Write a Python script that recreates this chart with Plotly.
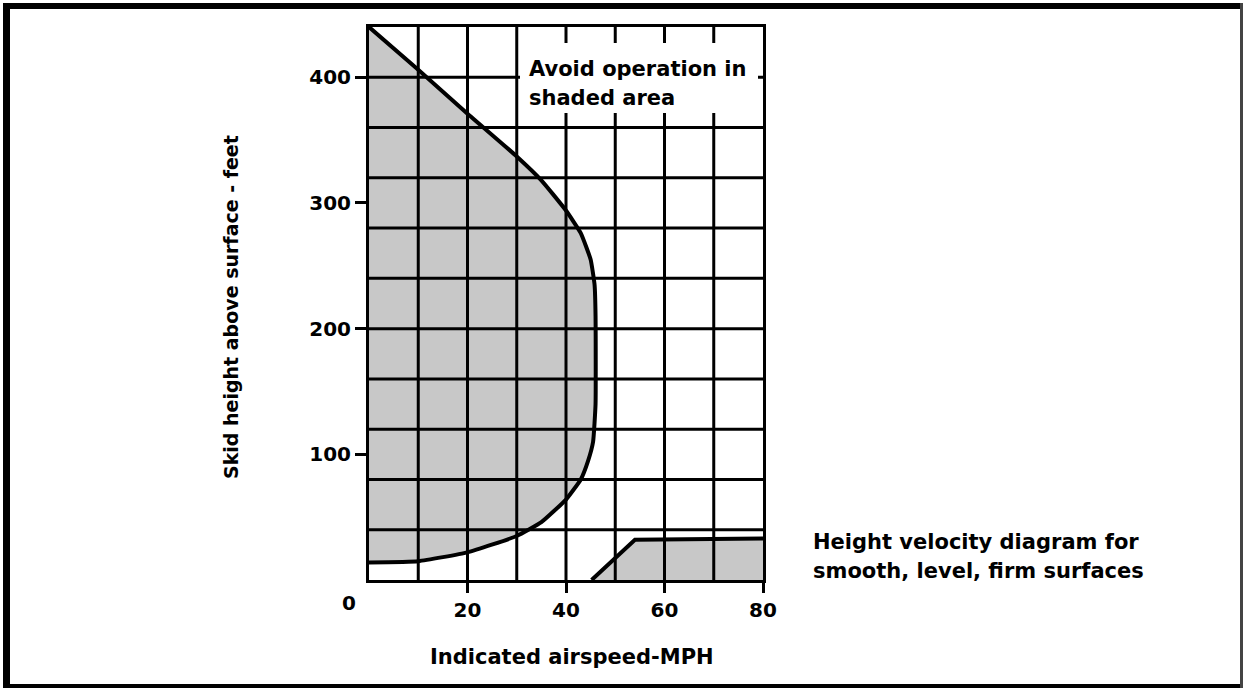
import plotly.graph_objects as go

# ---------------- data ----------------
x_ticks = [20, 40, 60, 80]
y_ticks = [100, 200, 300, 400]
x_grid = [10, 20, 30, 40, 50, 60, 70]
y_grid = [40, 80, 120, 160, 200, 240, 280, 320, 360, 400]
x_range = [0, 80]
y_range = [0, 440]

# upper "avoid" boundary (airspeed mph, skid height ft)
hv_speed = [0, 10, 20, 30, 35, 40, 43, 45, 45.8, 46.0, 46.0, 45.5, 44.5, 43, 40, 35, 30, 20, 10, 0]
hv_height = [440, 406, 371, 337, 318, 294, 276, 255, 235, 210, 140, 110, 95, 80, 64, 46, 35, 22, 15, 14]

# low-level high-speed boundary
low_speed = [45.2, 54, 80]
low_height = [0, 32, 33]

# ---------------- layout constants ----------------
W, H = 1245, 688
L, R, T, B = 369, 763, 27, 580  # plot area in pixels

def px(x):
    return (x - L) / (R - L)

def py(y):
    return (B - y) / (B - T)

FONT = "DejaVu Sans"
SHADE = "#c8c8c8"

fig = go.Figure()

# shaded regions
fig.add_trace(go.Scatter(x=hv_speed, y=hv_height, mode="none", fill="toself",
                         fillcolor=SHADE, hoverinfo="skip", showlegend=False,
                         line=dict(shape="spline", smoothing=0.4)))
fig.add_trace(go.Scatter(x=low_speed + [x_range[1]], y=low_height + [0], mode="none",
                         fill="toself", fillcolor=SHADE, hoverinfo="skip", showlegend=False))

# grid drawn above the shading
gx, gy = [], []
for g in x_grid:
    gx += [g, g, None]
    gy += [y_range[0], y_range[1], None]
for g in y_grid:
    gx += [x_range[0], x_range[1], None]
    gy += [g, g, None]
fig.add_trace(go.Scatter(x=gx, y=gy, mode="lines", line=dict(color="black", width=3),
                         hoverinfo="skip", showlegend=False))

# boundaries
fig.add_trace(go.Scatter(x=hv_speed, y=hv_height, mode="lines",
                         line=dict(color="black", width=4, shape="spline", smoothing=0.4),
                         hoverinfo="skip", showlegend=False))
fig.add_trace(go.Scatter(x=low_speed, y=low_height, mode="lines",
                         line=dict(color="black", width=4),
                         hoverinfo="skip", showlegend=False))

tickfont = dict(family=FONT, size=20, color="black", weight="bold")
fig.update_xaxes(range=x_range, tickvals=x_ticks, ticks="outside", ticklen=10, tickwidth=3,
                 tickcolor="black", showline=True, linewidth=3, linecolor="black", mirror=True,
                 showgrid=False, zeroline=False, tickfont=tickfont)
fig.update_yaxes(range=y_range, tickvals=y_ticks, ticks="outside", ticklen=11, tickwidth=3,
                 tickcolor="black", showline=True, linewidth=3, linecolor="black", mirror=True,
                 showgrid=False, zeroline=False, tickfont=tickfont)

shapes = []
# white box behind the note
shapes.append(dict(type="rect", xref="paper", yref="paper", x0=px(520), x1=px(758),
                   y0=py(113), y1=py(43), fillcolor="white", line=dict(width=0), layer="above"))
# image frame
frame = [(3, 3, 10, 686, "black"), (3, 3, 1243, 9, "black"), (3, 684, 1243, 688, "black"),
         (1240, 3, 1243, 688, "#444444")]
for x0, y0, x1, y1, c in frame:
    shapes.append(dict(type="rect", xref="paper", yref="paper", x0=px(x0), x1=px(x1),
                       y0=py(y1), y1=py(y0), fillcolor=c, line=dict(width=0), layer="above"))

def txt(s, x, y, size, xanchor="left", angle=0):
    return dict(text=s, xref="paper", yref="paper", x=px(x), y=py(y), xanchor=xanchor,
                yanchor="middle", showarrow=False, textangle=angle,
                font=dict(family=FONT, size=size, color="black", weight="bold"))

annotations = [
    txt("Avoid operation in", 527, 69, 21),
    txt("shaded area", 527, 98, 21),
    txt("Height velocity diagram for", 811, 542, 21),
    txt("smooth, level, firm surfaces", 811, 571, 21),
    txt("Indicated airspeed-MPH", 572, 657, 21, xanchor="center"),
    txt("Skid height above surface - feet", 231, 307, 19, xanchor="center", angle=-90),
    txt("0", 349, 603, 20, xanchor="center"),
]

fig.update_layout(width=W, height=H, margin=dict(l=L, r=W - R, t=T, b=H - B, pad=0),
                  paper_bgcolor="white", plot_bgcolor="white", shapes=shapes,
                  annotations=annotations, showlegend=False)

fig.write_html("out.html", config={"displayModeBar": False},
               post_script="document.body.style.margin='0';")
